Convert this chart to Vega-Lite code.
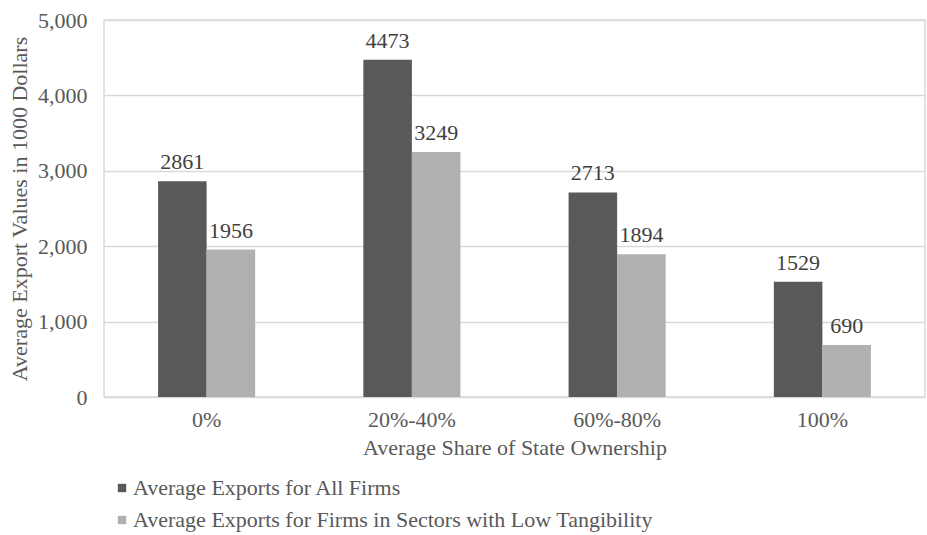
{
  "$schema": "https://vega.github.io/schema/vega-lite/v6.json",
  "autosize": {"type": "none"},
  "width": 821,
  "height": 377,
  "padding": {"left": 104, "top": 20, "right": 2, "bottom": 138},
  "background": "white",
  "config": {
    "font": "Liberation Serif",
    "view": {"stroke": "#d9d9d9", "strokeWidth": 1.5},
    "axis": {"labelFont": "Liberation Serif", "titleFont": "Liberation Serif", "labelColor": "#595959", "titleColor": "#595959", "titleFontWeight": "normal"}
  },
  "data": {
    "values": [
      {"share": "0%", "series": "Average Exports for All Firms", "value": 2861},
      {"share": "0%", "series": "Average Exports for Firms in Sectors with Low Tangibility", "value": 1956},
      {"share": "20%-40%", "series": "Average Exports for All Firms", "value": 4473},
      {"share": "20%-40%", "series": "Average Exports for Firms in Sectors with Low Tangibility", "value": 3249},
      {"share": "60%-80%", "series": "Average Exports for All Firms", "value": 2713},
      {"share": "60%-80%", "series": "Average Exports for Firms in Sectors with Low Tangibility", "value": 1894},
      {"share": "100%", "series": "Average Exports for All Firms", "value": 1529},
      {"share": "100%", "series": "Average Exports for Firms in Sectors with Low Tangibility", "value": 690}
    ]
  },
  "encoding": {
    "x": {
      "field": "share", "type": "nominal", "sort": ["0%", "20%-40%", "60%-80%", "100%"],
      "scale": {"paddingInner": 0.527, "paddingOuter": 0.2635},
      "axis": {"title": "Average Share of State Ownership", "labelAngle": 0, "labelFontSize": 22, "titleFontSize": 22, "ticks": false, "domain": false, "labelPadding": 12, "titlePadding": 7}
    },
    "xOffset": {"field": "series", "type": "nominal"},
    "y": {
      "field": "value", "type": "quantitative",
      "scale": {"domain": [0, 5000], "nice": false},
      "axis": {"title": "Average Export Values in 1000 Dollars", "values": [0, 1000, 2000, 3000, 4000, 5000], "format": ",d", "labelFontSize": 22, "titleFontSize": 22, "ticks": false, "domain": false, "labelPadding": 17, "gridColor": "#d9d9d9", "gridWidth": 1.5, "titlePadding": 6}
    }
  },
  "layer": [
    {
      "mark": {"type": "bar"},
      "encoding": {
        "color": {
          "field": "series", "type": "nominal",
          "scale": {"range": ["#595959", "#b0b0b0"]},
          "legend": {"title": null, "orient": "none", "legendX": 7, "legendY": 457, "direction": "vertical", "symbolType": "square", "symbolSize": 70, "symbolStrokeWidth": 0, "labelFont": "Liberation Serif", "labelFontSize": 22, "labelColor": "#595959", "rowPadding": 10, "labelOffset": 0, "padding": 0, "labelLimit": 700}
        }
      }
    },
    {
      "mark": {"type": "text", "baseline": "alphabetic", "dy": -12, "fontSize": 22, "color": "#404040", "font": "Liberation Serif"},
      "encoding": {"text": {"field": "value", "type": "quantitative", "format": "d"}}
    }
  ]
}
